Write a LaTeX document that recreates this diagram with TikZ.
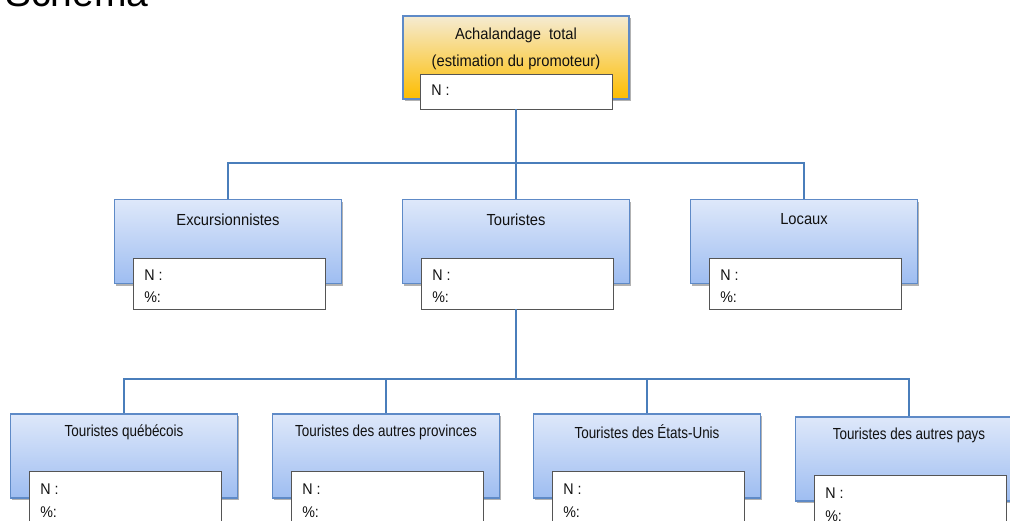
\documentclass[tikz,border=0pt]{standalone}
\usepackage{fontspec}
\setmainfont{Liberation Sans}
\newfontfamily\fontA[FakeStretch=0.92]{Liberation Sans}
\newfontfamily\fontB[FakeStretch=0.84]{Liberation Sans}
\usetikzlibrary{shadows,calc}
\definecolor{bluetop}{HTML}{DEE8FA}
\definecolor{bluebot}{HTML}{9EBDF1}
\definecolor{boxborder}{HTML}{5E8AC7}
\definecolor{orangetop}{HTML}{F5EBD2}
\definecolor{orangebot}{HTML}{FDBD00}
\definecolor{conn}{HTML}{4A7EBB}
\definecolor{txt}{HTML}{111111}
\definecolor{wborder}{HTML}{555555}
\begin{document}
\begin{tikzpicture}[x=1pt,y=-1pt,
  shd/.style={drop shadow={shadow xshift=1.5pt, shadow yshift=-2pt, opacity=0.3, fill=black}},
  bluebox/.style={draw=boxborder, line width=1.2pt, top color=bluetop, bottom color=bluebot,
    minimum width=227pt, minimum height=84pt, inner sep=0pt, shd},
  orangebox/.style={draw=boxborder, line width=1.2pt, top color=orangetop, bottom color=orangebot,
    minimum width=226pt, minimum height=83pt, inner sep=0pt, shd},
  whitebox/.style={draw=wborder, line width=0.8pt, fill=white, minimum width=192pt, inner sep=0pt},
  lblA/.style={text=txt, font=\fontA\fontsize{16}{19}\selectfont, inner sep=0pt},
  lblB/.style={text=txt, font=\fontB\fontsize{16}{19}\selectfont, inner sep=0pt},
  nlbl/.style={text=txt, font=\fontA\fontsize{15.5}{19}\selectfont, inner sep=0pt, anchor=west},
  cn/.style={draw=conn, line width=1.3pt}
]
\useasboundingbox (0,0) rectangle (1010,520);
\clip (0,0) rectangle (1010,520);

% title
\node[anchor=base west, inner sep=0pt, text=black, font=\fontsize{39}{40}\selectfont] (title) at (5,6) {Schéma};

% top box
\node[orangebox] (tot) at (516,57.5) {};
\node[lblA] (tot1) at (516,35) {Achalandage\ \ total};
\node[lblA] (tot2) at (516,62) {(estimation du promoteur)};
\node[whitebox, minimum height=35pt] (totw) at (516.5,91.5) {};
\node[nlbl] (totn) at ($(totw.north west)+(11,17)$) {N :};

% level 2
\node[bluebox] (exc) at (228,241.5) {};
\node[lblA] (excl) at (228,219.5) {Excursionnistes};
\node[whitebox, minimum height=51pt] (excw) at (229.5,283.5) {};
\node[nlbl] (excn) at ($(excw.north west)+(11,18)$) {N :};
\node[nlbl] (excp) at ($(excw.north west)+(11,40)$) {\%:};

\node[bluebox] (tou) at (516,241.5) {};
\node[lblA] (toul) at (516,219.5) {Touristes};
\node[whitebox, minimum height=51pt] (touw) at (517.5,283.5) {};
\node[nlbl] (toun) at ($(touw.north west)+(11,18)$) {N :};
\node[nlbl] (toup) at ($(touw.north west)+(11,40)$) {\%:};

\node[bluebox] (loc) at (804,241.5) {};
\node[lblA] (locl) at (804,219.5) {Locaux};
\node[whitebox, minimum height=51pt] (locw) at (805.5,283.5) {};
\node[nlbl] (locn) at ($(locw.north west)+(11,18)$) {N :};
\node[nlbl] (locp) at ($(locw.north west)+(11,40)$) {\%:};

% level 3
\node[bluebox] (q1) at (124,456) {};
\node[lblB] (q1l) at (124,432) {Touristes québécois};
\node[whitebox, minimum height=60pt] (q1w) at (125.5,501) {};
\node[nlbl] (q1n) at ($(q1w.north west)+(11,19)$) {N :};
\node[nlbl] (q1p) at ($(q1w.north west)+(11,42)$) {\%:};

\node[bluebox] (q2) at (386,456) {};
\node[lblB] (q2l) at (386,432) {Touristes des autres provinces};
\node[whitebox, minimum height=60pt] (q2w) at (387.5,501) {};
\node[nlbl] (q2n) at ($(q2w.north west)+(11,19)$) {N :};
\node[nlbl] (q2p) at ($(q2w.north west)+(11,42)$) {\%:};

\node[bluebox] (q3) at (647,456) {};
\node[lblB] (q3l) at (647,432) {Touristes des États-Unis};
\node[whitebox, minimum height=60pt] (q3w) at (648.5,501) {};
\node[nlbl] (q3n) at ($(q3w.north west)+(11,19)$) {N :};
\node[nlbl] (q3p) at ($(q3w.north west)+(11,42)$) {\%:};

\node[bluebox] (q4) at (909,459) {};
\node[lblB] (q4l) at (909,435) {Touristes des autres pays};
\node[whitebox, minimum height=60pt] (q4w) at (910.5,505) {};
\node[nlbl] (q4n) at ($(q4w.north west)+(11,19)$) {N :};
\node[nlbl] (q4p) at ($(q4w.north west)+(11,42)$) {\%:};

% connectors
\coordinate (h2) at (516,163);
\coordinate (h3) at (516,379);
\draw[cn] (tou.north |- totw.south) -- (tou.north);
\draw[cn] (exc.north) |- (h2) -| (loc.north);
\draw[cn] (tou.north |- touw.south) -- (h3);
\draw[cn] (q1.north) |- (h3) -| (q4.north);
\draw[cn] (q2.north) -- (q2.north |- h3);
\draw[cn] (q3.north) -- (q3.north |- h3);
\end{tikzpicture}
\end{document}
